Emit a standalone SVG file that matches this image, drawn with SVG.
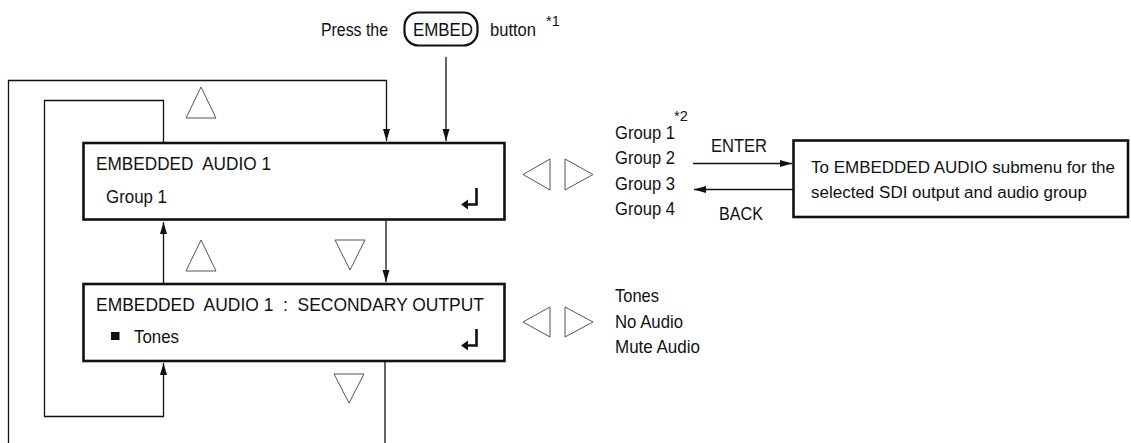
<svg xmlns="http://www.w3.org/2000/svg" width="1131" height="443" viewBox="0 0 1131 443">
<style>
text{font-family:"Liberation Sans",Arial,sans-serif;font-size:18.5px;fill:#111}
.sup{font-size:14.5px}
.sm{font-size:16.8px}
.box{fill:#fff;stroke:#111;stroke-width:2.6}
.ln{fill:none;stroke:#111;stroke-width:1.3}
.tri{fill:none;stroke:#555;stroke-width:1}
.ret{fill:none;stroke:#111;stroke-width:2.6}
</style>
<defs>
<marker id="ah" markerUnits="userSpaceOnUse" markerWidth="13" markerHeight="8" refX="12" refY="4" orient="auto">
<path d="M0,0.5 L12,4 L0,7.5 Z" fill="#111"/>
</marker>
</defs>

<g id="title">
<text x="321" y="36" textLength="67" lengthAdjust="spacingAndGlyphs">Press the</text>
<rect x="404.5" y="12.5" width="73" height="33" rx="14" fill="none" stroke="#111" stroke-width="2.2"/>
<text x="413" y="36" textLength="60" lengthAdjust="spacingAndGlyphs">EMBED</text>
<text x="490" y="36" textLength="46" lengthAdjust="spacingAndGlyphs">button</text>
<text class="sup" x="546" y="26">*1</text>
</g>

<g id="connectors">
<path class="ln" d="M446 57 V141" marker-end="url(#ah)"/>
<path class="ln" d="M8.5 443 V80.5 H386.5 V141" marker-end="url(#ah)"/>
<path class="ln" d="M163.5 142 V100.5 H44.5 V416.5 H163.5 V363" marker-end="url(#ah)"/>
<path class="ln" d="M163.5 283 V222" marker-end="url(#ah)"/>
<path class="ln" d="M386 221 V282" marker-end="url(#ah)"/>
<path class="ln" d="M385 362 V443"/>
<path class="ln" d="M693 163.5 H792" marker-end="url(#ah)"/>
<path class="ln" d="M793 189.5 H694" marker-end="url(#ah)"/>
</g>

<g id="nav-triangles">
<polygon class="tri" points="186,118 216,118 201,87"/>
<polygon class="tri" points="186,271 216,271 201,240"/>
<polygon class="tri" points="335,240 365,240 350,270"/>
<polygon class="tri" points="334,374 364,374 349,403"/>
<polygon class="tri" points="550,159 550,190 523,174.5"/>
<polygon class="tri" points="565,159 565,190 593,174.5"/>
<polygon class="tri" points="550,307 550,337 523,322"/>
<polygon class="tri" points="565,307 565,337 593,322"/>
</g>

<g id="box-embedded-audio">
<rect class="box" x="83.5" y="143" width="421" height="76.5"/>
<text x="96" y="170" xml:space="preserve" textLength="175" lengthAdjust="spacingAndGlyphs">EMBEDDED  AUDIO 1</text>
<text x="106" y="203" textLength="61" lengthAdjust="spacingAndGlyphs">Group 1</text>
<path class="ret" d="M476.5 188 V204.5 H467"/>
<path d="M461 204.5 L468 199.5 L468 209.5 Z" fill="#111"/>
</g>

<g id="box-secondary-output">
<rect class="box" x="83.5" y="284" width="421" height="77"/>
<text x="96" y="311" xml:space="preserve" textLength="388" lengthAdjust="spacingAndGlyphs">EMBEDDED  AUDIO 1  :  SECONDARY OUTPUT</text>
<rect x="111" y="332" width="8.5" height="8" fill="#111"/>
<text x="134" y="343" textLength="45" lengthAdjust="spacingAndGlyphs">Tones</text>
<path class="ret" d="M476.5 329 V345.5 H467"/>
<path d="M461 345.5 L468 340.5 L468 350.5 Z" fill="#111"/>
</g>

<g id="group-list">
<text class="sup" x="674" y="121">*2</text>
<text x="615" y="138.5" textLength="60" lengthAdjust="spacingAndGlyphs">Group 1</text>
<text x="615" y="164" textLength="60" lengthAdjust="spacingAndGlyphs">Group 2</text>
<text x="615" y="189.5" textLength="60" lengthAdjust="spacingAndGlyphs">Group 3</text>
<text x="615" y="215" textLength="60" lengthAdjust="spacingAndGlyphs">Group 4</text>
<text x="711" y="152" textLength="56" lengthAdjust="spacingAndGlyphs">ENTER</text>
<text x="719" y="220" textLength="44" lengthAdjust="spacingAndGlyphs">BACK</text>
</g>

<g id="box-submenu">
<rect class="box" x="793.5" y="140.5" width="334.5" height="76.5"/>
<text class="sm" x="811" y="173" textLength="304" lengthAdjust="spacingAndGlyphs">To EMBEDDED AUDIO submenu for the</text>
<text class="sm" x="811" y="198" textLength="276" lengthAdjust="spacingAndGlyphs">selected SDI output and audio group</text>
</g>

<g id="output-list">
<text x="615" y="302" textLength="44" lengthAdjust="spacingAndGlyphs">Tones</text>
<text x="615" y="328" textLength="68" lengthAdjust="spacingAndGlyphs">No Audio</text>
<text x="615" y="353" textLength="85" lengthAdjust="spacingAndGlyphs">Mute Audio</text>
</g>
</svg>
